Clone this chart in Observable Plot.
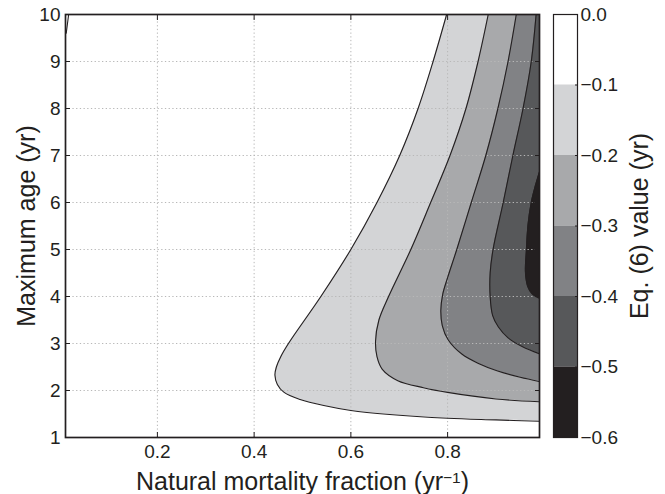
<!DOCTYPE html>
<html><head><meta charset="utf-8">
<script src="https://cdn.jsdelivr.net/npm/d3@7"></script>
<script src="https://cdn.jsdelivr.net/npm/@observablehq/plot@0.6"></script>
<style>
body{margin:0;background:#fff;}
#wrap{position:relative;width:665px;height:494px;font-family:"Liberation Sans",Arial,Helvetica,sans-serif;}
#wrap svg{position:absolute;top:0;}
</style></head><body><div id="wrap"></div>
<script>
// ---- data ----
const xDomain = [0.01, 0.99];
const yDomain = [1, 10];
const xTicks = [0.2, 0.4, 0.6, 0.8];
const yTicks = [1, 2, 3, 4, 5, 6, 7, 8, 9, 10];
const levels = [0, -0.1, -0.2, -0.3, -0.4, -0.5, -0.6];
const levelColors = ["#ffffff", "#d3d4d6", "#a8a9ab", "#818285", "#57585a", "#231f20"];

// contour boundaries [x, y], ordered from top to bottom (region to their right is below the level)
const contour01 = [[0.798,10],[0.770,9],[0.739,8],[0.701,7],[0.654,6],[0.600,5],[0.538,4],[0.471,3],[0.455,2.72],[0.446,2.5],[0.443,2.33],[0.448,2.13],[0.462,1.96],[0.495,1.81],[0.544,1.68],[0.600,1.575],[0.680,1.49],[0.800,1.41],[0.900,1.375],[0.990,1.345]];
const contour02 = [[0.884,10],[0.863,9],[0.838,8],[0.805,7],[0.765,6],[0.724,5],[0.678,4],[0.658,3.5],[0.651,3.05],[0.654,2.72],[0.665,2.45],[0.697,2.21],[0.750,2.06],[0.800,1.96],[0.900,1.82],[0.990,1.76]];
const contour03 = [[0.942,10],[0.925,9],[0.904,8],[0.879,7],[0.849,6],[0.819,5],[0.800,4.4],[0.790,4.05],[0.786,3.7],[0.789,3.38],[0.801,3.08],[0.830,2.77],[0.865,2.57],[0.902,2.42],[0.950,2.28],[0.990,2.19]];
const contour04 = [[0.983,10],[0.973,9],[0.956,8],[0.935,7],[0.915,6],[0.894,5],[0.888,4.5],[0.888,4.0],[0.893,3.6],[0.905,3.35],[0.925,3.12],[0.955,2.93],[0.990,2.78]];
const contour05 = [[0.990,6.65],[0.980,6.3],[0.973,6],[0.966,5.5],[0.963,5],[0.961,4.5],[0.966,4.2],[0.975,4.05],[0.990,3.96]];
const edgeContour = [[0.0115,9.6],[0.0165,10]];
const contours = [contour01, contour02, contour03, contour04, contour05];

const xTitleMain = "Natural mortality fraction (yr";
const xTitleSup = "\u22121";
const yTitle = "Maximum age (yr)";
const cTitle = "Eq. (6) value (yr)";

// ---- chart ----
const ink = "#231f20";
const font = "Liberation Sans, Arial, Helvetica, sans-serif";
const titleSize = 25;
const fills = contours.map((c, i) => Plot.areaX(c, {
  y: d => d[1], x1: d => d[0], x2: xDomain[1], fill: levelColors[i + 1], curve: "catmull-rom"
}));
const lines = contours.map(c => Plot.line(c, {
  x: d => d[0], y: d => d[1], stroke: ink, strokeWidth: 1.1, curve: "catmull-rom"
}));

const main = Plot.plot({
  width: 665, height: 494,
  marginLeft: 65, marginRight: 126, marginTop: 14, marginBottom: 57,
  style: {fontFamily: font, fontSize: "19px", color: ink, background: "transparent"},
  x: {domain: xDomain},
  y: {domain: yDomain},
  clip: true,
  marks: [
    ...fills,
    Plot.gridX(xTicks, {stroke: "#b8b8b8", strokeOpacity: 1, strokeDasharray: "1.3,2.4", strokeWidth: 1}),
    Plot.gridY(yTicks.slice(1, -1), {stroke: "#b8b8b8", strokeOpacity: 1, strokeDasharray: "1.3,2.4", strokeWidth: 1}),
    ...lines,
    Plot.line(edgeContour, {x: d => d[0], y: d => d[1], stroke: ink, strokeWidth: 1.1}),
    // labels
    Plot.axisX(xTicks, {anchor: "bottom", tickSize: 0, tickPadding: 7, tickFormat: d => d.toFixed(1), fontSize: 19, label: null, clip: false}),
    Plot.axisY(yTicks, {anchor: "left", tickSize: 0, tickPadding: 5, tickFormat: d => String(d), fontSize: 19, label: null, clip: false}),
    // inward tick marks on all four sides
    Plot.axisX(xTicks, {anchor: "bottom", tickSize: -5, tickFormat: () => "", label: null, clip: false}),
    Plot.axisX(xTicks, {anchor: "top", tickSize: -5, tickFormat: () => "", label: null, clip: false}),
    Plot.axisY(yTicks, {anchor: "left", tickSize: -5, tickFormat: () => "", label: null, clip: false}),
    Plot.axisY(yTicks, {anchor: "right", tickSize: -5, tickFormat: () => "", label: null, clip: false}),
    Plot.frame({stroke: ink, strokeWidth: 1.7, clip: false}),
    Plot.text([xTitleMain], {frameAnchor: "bottom", textAnchor: "middle", dy: 52, fontSize: titleSize, fill: ink, clip: false}),
    Plot.text([yTitle], {frameAnchor: "left", textAnchor: "middle", rotate: -90, dx: -39, fontSize: titleSize, fill: ink, clip: false})
  ]
});

// add the superscript to the x title as real text
d3.select(main).selectAll("text").filter(function() { return this.textContent === xTitleMain; })
  .each(function() {
    const t = d3.select(this);
    t.text(null);
    t.append("tspan").text(xTitleMain);
    t.append("tspan").attr("dy", "-0.45em").attr("font-size", "0.62em").text(xTitleSup);
    t.append("tspan").attr("dy", "0.28em").text(")");
  });

const bands = levels.slice(0, -1).map((hi, i) => ({hi, lo: levels[i + 1], color: levelColors[i]}));
const cbar = Plot.plot({
  width: 120, height: 494,
  marginLeft: 8, marginRight: 88, marginTop: 14, marginBottom: 57,
  style: {fontFamily: font, fontSize: "19px", color: ink, background: "transparent"},
  x: {axis: null},
  y: {domain: [levels[levels.length - 1], levels[0]]},
  color: {type: "identity"},
  marks: [
    Plot.rectY(bands, {y1: "lo", y2: "hi", fill: "color"}),
    Plot.frame({stroke: ink, strokeWidth: 1.2}),
    Plot.axisY(levels, {anchor: "right", tickSize: 0, tickPadding: 3,
      tickFormat: d => d === 0 ? "0.0" : "\u2212" + (-d).toFixed(1), fontSize: 19, label: null}),
    Plot.axisY(levels, {anchor: "right", tickSize: -3, tickFormat: () => "", label: null}),
    Plot.text([cTitle], {frameAnchor: "right", textAnchor: "middle", rotate: -90, dx: 62, fontSize: titleSize, fill: ink})
  ]
});

const wrap = document.getElementById("wrap");
main.style.left = "0px";
cbar.style.left = "545px";
wrap.appendChild(main);
wrap.appendChild(cbar);
</script>
</body></html>
